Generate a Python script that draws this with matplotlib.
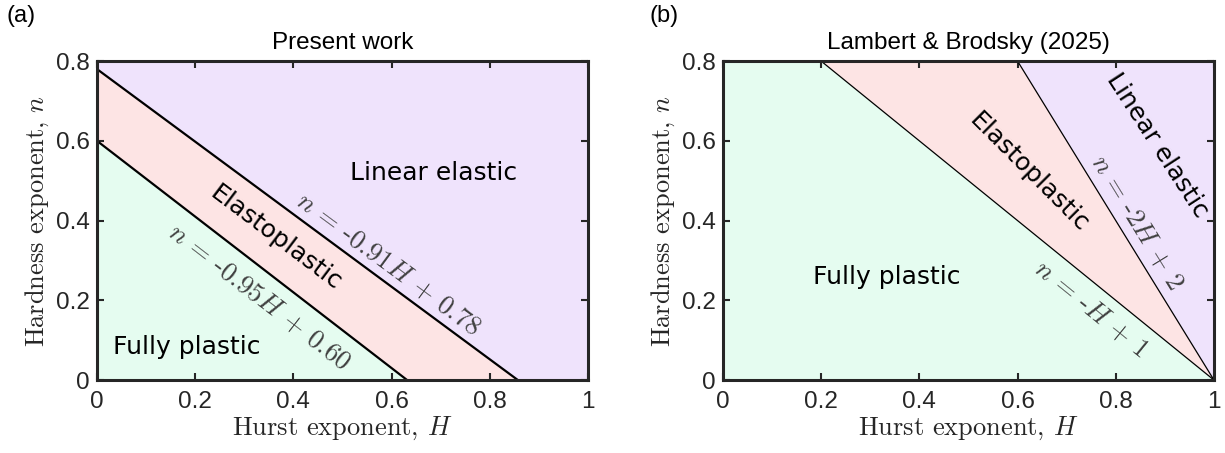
import numpy as np
import matplotlib
matplotlib.use('Agg')
import matplotlib.pyplot as plt

plt.rcParams['font.family'] = ['Liberation Sans', 'DejaVu Sans']
plt.rcParams['mathtext.fontset'] = 'cm'

# boundary lines n = a*H + b
a_slopes = [-0.95, -0.91]
a_icepts = [0.60, 0.78]
b_slopes = [-1.0, -2.0]
b_icepts = [1.0, 2.0]

green = '#e5fcf0'
pink = '#fde4e4'
purple = '#efe3fc'

xticks = [0, 0.2, 0.4, 0.6, 0.8, 1]
yticks = [0, 0.2, 0.4, 0.6, 0.8]
ymax = 0.8

fig = plt.figure(figsize=(12.25, 4.53), dpi=100)
ax1 = fig.add_axes([0.0792, 0.161, 0.4008, 0.704])
ax2 = fig.add_axes([0.5902, 0.161, 0.4008, 0.704])


def style(ax, title):
    ax.set_xlim(0, 1)
    ax.set_ylim(0, ymax)
    ax.set_xticks(xticks)
    ax.set_xticklabels(['0', '0.2', '0.4', '0.6', '0.8', '1'])
    ax.set_yticks(yticks)
    ax.set_yticklabels(['0', '0.2', '0.4', '0.6', '0.8'])
    ax.tick_params(direction='in', top=True, right=True, labelsize=17.5,
                   length=5, width=1.5, color='#262626', labelcolor='#262626')
    ax.tick_params(axis='x', pad=8)
    ax.tick_params(axis='y', pad=5)
    for s in ax.spines.values():
        s.set_linewidth(2.2)
        s.set_color('#262626')
    ax.set_xlabel('Hurst exponent, $H$', family='cmr10', fontsize=19, labelpad=1, color='#262626')
    ax.set_ylabel('Hardness exponent, $n$', family='cmr10', fontsize=19, labelpad=4, color='#262626')
    ax.set_title(title, fontsize=17.5, pad=9)


def eq(a, b):
    a_txt = '' if a == '1' else a
    return '$n$ = -%s$H$ + %s' % (a_txt, b)


H = np.linspace(0, 1, 501)
eq_kw = dict(fontsize=19.5, color='0.25', ha='center', va='center', family='cmr10',
             transform_rotates_text=True, rotation_mode='anchor')
reg_kw = dict(fontsize=18, ha='center', va='center', family='DejaVu Sans',
              rotation_mode='anchor')

# (a) present work
lo = np.clip(a_slopes[0] * H + a_icepts[0], 0, ymax)
hi = np.clip(a_slopes[1] * H + a_icepts[1], 0, ymax)
ax1.fill_between(H, 0, lo, color=green, lw=0)
ax1.fill_between(H, lo, hi, color=pink, lw=0)
ax1.fill_between(H, hi, ymax, color=purple, lw=0)
for s, b in zip(a_slopes, a_icepts):
    hz = -b / s
    ax1.plot([0, hz], [b, 0], color='k', lw=1.6)
style(ax1, 'Present work')

ax1.text(0.686, 0.52, 'Linear elastic', **reg_kw)
ax1.text(0.365, 0.356, 'Elastoplastic', rotation=np.degrees(np.arctan(-0.93)),
         transform_rotates_text=True, **reg_kw)
ax1.text(0.183, 0.083, 'Fully plastic', **reg_kw)
ax1.text(0.593, 0.291, eq('0.91', '0.78'), rotation=np.degrees(np.arctan(-0.91)), **eq_kw)
ax1.text(0.330, 0.208, eq('0.95', '0.60'), rotation=np.degrees(np.arctan(-0.95)), **eq_kw)

# (b) Lambert & Brodsky
lo = np.clip(b_slopes[0] * H + b_icepts[0], 0, ymax)
hi = np.clip(b_slopes[1] * H + b_icepts[1], 0, ymax)
ax2.fill_between(H, 0, lo, color=green, lw=0)
ax2.fill_between(H, lo, hi, color=pink, lw=0)
ax2.fill_between(H, hi, ymax, color=purple, lw=0)
for s, b in zip(b_slopes, b_icepts):
    h0 = (ymax - b) / s
    ax2.plot([h0, 1], [ymax, 0], color='k', lw=0.9)
style(ax2, 'Lambert & Brodsky (2025)')

ax2.text(0.334, 0.258, 'Fully plastic', **reg_kw)
ax2.text(0.622, 0.522, 'Elastoplastic', rotation=-45, **reg_kw)
ax2.text(0.884, 0.589, 'Linear elastic', rotation=-57, **reg_kw)
ax2.text(0.843, 0.396, eq('2', '2'), rotation=np.degrees(np.arctan(-2)), **eq_kw)
ax2.text(0.751, 0.178, eq('1', '1'), rotation=np.degrees(np.arctan(-1)), **eq_kw)

fig.text(0.005, 0.99, '(a)', fontsize=17, va='top')
fig.text(0.530, 0.99, '(b)', fontsize=17, va='top')

fig.savefig('out.png', dpi=100)
